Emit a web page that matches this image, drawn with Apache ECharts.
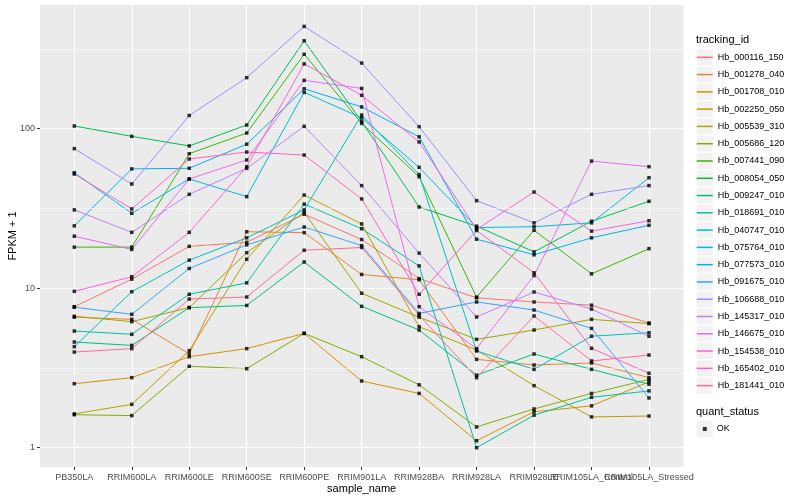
<!DOCTYPE html>
<html>
<head>
<meta charset="utf-8">
<script src="https://cdn.jsdelivr.net/npm/echarts@6/dist/echarts.min.js"></script>
<style>html,body{margin:0;padding:0;background:#fff}#c{width:800px;height:500px}</style>
</head>
<body>
<div id="c"></div>
<script>
const categories = ['PB350LA','RRIM600LA','RRIM600LE','RRIM600SE','RRIM600PE','RRIM901LA','RRIM928BA','RRIM928LA','RRIM928LE','RRIM105LA_Control','RRIM105LA_Stressed'];
const trackingIds = ['Hb_000116_150','Hb_001278_040','Hb_001708_010','Hb_002250_050','Hb_005539_310','Hb_005686_120','Hb_007441_090','Hb_008054_050','Hb_009247_010','Hb_018691_010','Hb_040747_010','Hb_075764_010','Hb_077573_010','Hb_091675_010','Hb_106688_010','Hb_145317_010','Hb_146675_010','Hb_154538_010','Hb_165402_010','Hb_181441_010'];
const seriesColors = ['#F8766D','#EA8331','#D89000','#C09B00','#A3A500','#7CAE00','#39B600','#00BB4E','#00BF7D','#00C1A3','#00BFC4','#00BAE0','#00B0F6','#35A2FF','#9590FF','#C77CFF','#E76BF3','#FA62DB','#FF62BC','#FF6C91'];

const hb000116 = [7.66, 11.4, 18.3, 19.4, 29.1, 20.2, 11.5, 8.7, 8.2, 7.83, 6.05];
const hb001278 = [6.58, 6.38, 3.87, 22.6, 22.3, 12.2, 11.3, 3.58, 3.3, 3.4, 2.75];
const hb001708 = [2.52, 2.75, 3.72, 4.18, 5.21, 2.62, 2.19, 1.106, 1.68, 1.83, 2.59];
const hb002250 = [1.63, 1.87, 4.06, 15.2, 38.4, 25.3, 5.74, 4.1, 2.45, 1.56, 1.58];
const hb005539 = [6.67, 6.17, 7.57, 16.7, 29.9, 9.3, 6.58, 4.78, 5.47, 6.38, 6.0];
const hb005686 = [1.61, 1.59, 3.24, 3.13, 5.21, 3.72, 2.48, 1.35, 1.75, 2.19, 2.68];
const hb007441 = [18.1, 18.1, 69.7, 94, 293, 108, 50, 8.8, 23.1, 12.3, 17.7];
const hb008054 = [104, 89.6, 78, 105.5, 356, 111, 32.3, 24.5, 16.9, 26.3, 35.1];
const hb009247 = [4.6, 4.38, 7.55, 7.8, 14.6, 7.7, 5.47, 2.85, 3.87, 3.1, 2.5];
const hb018691 = [5.39, 5.14, 9.16, 10.8, 33.7, 23.6, 13.8, 1.0, 1.6, 2.07, 2.27];
const hb040747 = [4.3, 9.5, 15, 20.7, 31, 122, 51.6, 4.04, 3.1, 5.0, 5.26];
const hb075764 = [53, 29.5, 48.4, 37.5, 169, 117, 57.3, 24, 24.3, 25.7, 49.3];
const hb077573 = [24.6, 56, 56.5, 80, 178, 137, 89, 20.3, 16.2, 20.7, 24.8];
const hb091675 = [7.6, 6.86, 13.3, 18.7, 24.2, 18.5, 6.95, 8.2, 7.3, 5.6, 2.05];
const hb106688 = [75, 45, 121, 209, 438, 258, 103, 35.4, 25.7, 38.8, 44];
const hb145317 = [31, 22.4, 38.8, 56.4, 103.5, 44, 16.6, 6.6, 9.47, 7.4, 5.0];
const hb146675 = [21.2, 17.5, 48.4, 63.7, 201, 179, 7.66, 4.18, 12.0, 62.7, 57.8];
const hb154538 = [9.56, 11.8, 22.4, 57.8, 255, 162, 82.6, 23.4, 40.1, 22.8, 26.5];
const hb165402 = [52, 31.4, 64.6, 71.4, 68.4, 36.3, 9.16, 23, 12.5, 4.2, 2.93];
const hb181441 = [3.98, 4.18, 8.55, 8.81, 17.3, 18.0, 6.77, 2.75, 6.7, 3.5, 3.81];

const seriesValues = [hb000116, hb001278, hb001708, hb002250, hb005539, hb005686, hb007441, hb008054, hb009247, hb018691, hb040747, hb075764, hb077573, hb091675, hb106688, hb145317, hb146675, hb154538, hb165402, hb181441];

const yTickValues = [1, 10, 100];
const yTickLabels = ['1', '10', '100'];
const yMinorBreaks = [3.1623, 31.623, 316.23];
const statusNames = ['OK'];

const FONT = 'Liberation Sans, Arial, Helvetica, sans-serif';
const yMin = 0.757, yMax = 596.6;

const chart = echarts.init(document.getElementById('c'), null, {renderer: 'canvas'});

const lineSeries = trackingIds.map((id, i) => ({
  name: id,
  type: 'line',
  xAxisIndex: 1,
  yAxisIndex: 1,
  data: seriesValues[i],
  symbol: 'none',
  showSymbol: false,
  silent: true,
  lineStyle: {width: 1, color: seriesColors[i]},
  itemStyle: {color: seriesColors[i]},
  z: 3
}));

const pointData = [];
seriesValues.forEach(arr => arr.forEach((v, j) => pointData.push([j, v])));

// legend key backgrounds (decoration)
const keyTop0 = 49.3, keyPitch = 17.28, keyLeft = 696.7, keySize = 16;
const keyRects = trackingIds.map((id, i) => ({
  type: 'rect', left: keyLeft, top: keyTop0 + i * keyPitch,
  shape: {width: keySize, height: keySize}, style: {fill: '#F2F2F2'}, z: 0, silent: true
}));
keyRects.push({type: 'rect', left: keyLeft, top: 421, shape: {width: keySize, height: keySize}, style: {fill: '#F2F2F2'}, z: 0, silent: true});

const option = {
  animation: false,
  textStyle: {fontFamily: FONT},
  backgroundColor: '#ffffff',
  title: [
    {text: 'tracking_id', left: 696, top: 34, padding: 0, textStyle: {fontSize: 11, fontWeight: 'normal', color: '#000', fontFamily: FONT}},
    {text: 'quant_status', left: 696, top: 406, padding: 0, textStyle: {fontSize: 11, fontWeight: 'normal', color: '#000', fontFamily: FONT}}
  ],
  graphic: keyRects,
  legend: [
    {
      data: trackingIds, orient: 'vertical', left: keyLeft, top: keyTop0, padding: 0,
      itemGap: keyPitch - 16, itemWidth: 16, itemHeight: 1.5, icon: 'rect', selectedMode: false,
      textStyle: {fontSize: 9, color: '#000', lineHeight: 16, fontFamily: FONT}
    },
    {
      data: statusNames, orient: 'vertical', left: 702.8, top: 421, padding: 0,
      itemWidth: 4, itemHeight: 4, icon: 'rect', selectedMode: false,
      textStyle: {fontSize: 9, color: '#000', lineHeight: 16, padding: [0, 0, 0, 5], fontFamily: FONT}
    }
  ],
  grid: [
    {left: 40, right: 116.5, top: 5, bottom: 33, show: true, backgroundColor: '#EBEBEB', borderWidth: 0, containLabel: false, outerBoundsMode: 'none'},
    {left: 74.3, right: 151, top: 5, bottom: 33, show: false, containLabel: false, outerBoundsMode: 'none'}
  ],
  xAxis: [
    {type: 'value', gridIndex: 0, show: false, min: 0, max: 1},
    {
      type: 'category', gridIndex: 1, data: categories, boundaryGap: false,
      axisLine: {show: false},
      axisTick: {show: true, length: 3, alignWithLabel: true, lineStyle: {color: '#333333', width: 1}},
      axisLabel: {interval: 0, fontSize: 9, color: '#4D4D4D', margin: 6, fontFamily: FONT},
      splitLine: {show: true, interval: 0, lineStyle: {color: '#ffffff', width: 1.1}},
      name: 'sample_name', nameLocation: 'middle', nameGap: 16, nameMoveOverlap: false,
      nameTextStyle: {fontSize: 11, color: '#000', fontFamily: FONT}
    }
  ],
  yAxis: [
    {
      type: 'log', logBase: 10, gridIndex: 0, min: yMin, max: yMax,
      axisLine: {show: false},
      axisTick: {show: true, length: 3, customValues: yTickValues, lineStyle: {color: '#333333', width: 1}},
      axisLabel: {
        fontSize: 9, color: '#4D4D4D', margin: 5, customValues: yTickValues,
        showMinLabel: true, showMaxLabel: true, fontFamily: FONT,
        formatter: function (v) {
          const k = yTickValues.findIndex(t => Math.abs(t - v) < 1e-6 * t);
          return k >= 0 ? yTickLabels[k] : '';
        }
      },
      splitLine: {show: true, lineStyle: {color: '#ffffff', width: 1.1}},
      name: 'FPKM + 1', nameLocation: 'middle', nameGap: 22, nameRotate: 90, nameMoveOverlap: false,
      nameTextStyle: {fontSize: 11, color: '#000', fontFamily: FONT}
    },
    {type: 'log', logBase: 10, gridIndex: 1, min: yMin, max: yMax, show: false, splitLine: {show: false}}
  ],
  series: [
    {
      name: 'minor-grid', type: 'line', xAxisIndex: 0, yAxisIndex: 0, data: [], silent: true, z: 1,
      markLine: {
        silent: true, symbol: ['none', 'none'], label: {show: false}, animation: false,
        lineStyle: {color: '#FFFFFF', width: 0.55, type: 'solid', opacity: 1},
        emphasis: {disabled: true},
        data: yMinorBreaks.map(v => ({yAxis: v}))
      }
    }
  ].concat(lineSeries).concat([{
    name: 'OK', type: 'scatter', xAxisIndex: 1, yAxisIndex: 1, data: pointData,
    symbol: 'rect', symbolSize: 3.5, silent: true,
    itemStyle: {color: '#000000'}, z: 5
  }])
};
chart.setOption(option);
</script>
</body>
</html>
